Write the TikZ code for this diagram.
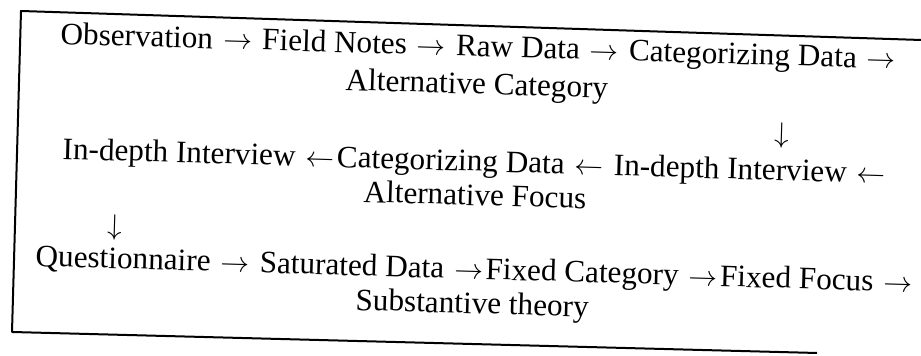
\documentclass[tikz,border=0pt]{standalone}
\usepackage{fontspec}
\setmainfont{Liberation Serif}
% arrows set inline with a little extra room on both sides
\newcommand\flowR{\kern1.2pt$\rightarrow$\kern1.2pt}
\newcommand\flowL{\kern1.2pt$\leftarrow$\kern1.2pt}
\begin{document}
\begin{tikzpicture}[x=0.5pt,y=-0.5pt,
  txt/.style={font=\fontsize{15.6}{19}\selectfont, anchor=base west, inner sep=0pt, rotate=-1.7},
  darrow/.style={font=\fontsize{15.6}{19}\selectfont, anchor=base, inner sep=0pt, rotate=-1.7},
  frame/.style={line width=1pt, line join=round}]
\useasboundingbox (0,0) rectangle (921,356);
% open frame, its right side runs off the page
\draw[frame] (817,353) -- (12,332) -- (21,11) -- (921,40);
% first stage
\node[txt] (r1a) at (60,44) {Observation \flowR{} Field Notes \flowR{} Raw Data \flowR{} Categorizing Data \flowR};
\node[txt] (r1b) at (345,90) {Alternative Category};
\node[darrow] (d1) at (782,143) {$\downarrow$};
% second stage
\node[txt] (r2a) at (62,159) {In-depth Interview \flowL{}Categorizing Data \flowL{} In-depth Interview \flowL};
\node[txt] (r2b) at (363,202) {Alternative Focus};
\node[darrow] (d2) at (115,235) {$\downarrow$};
% third stage
\node[txt] (r3a) at (35,266) {Questionnaire \flowR{} Saturated Data \flowR{}Fixed Category \flowR{}Fixed Focus \flowR};
\node[txt] (r3b) at (355,310) {Substantive theory};
\end{tikzpicture}
\end{document}
